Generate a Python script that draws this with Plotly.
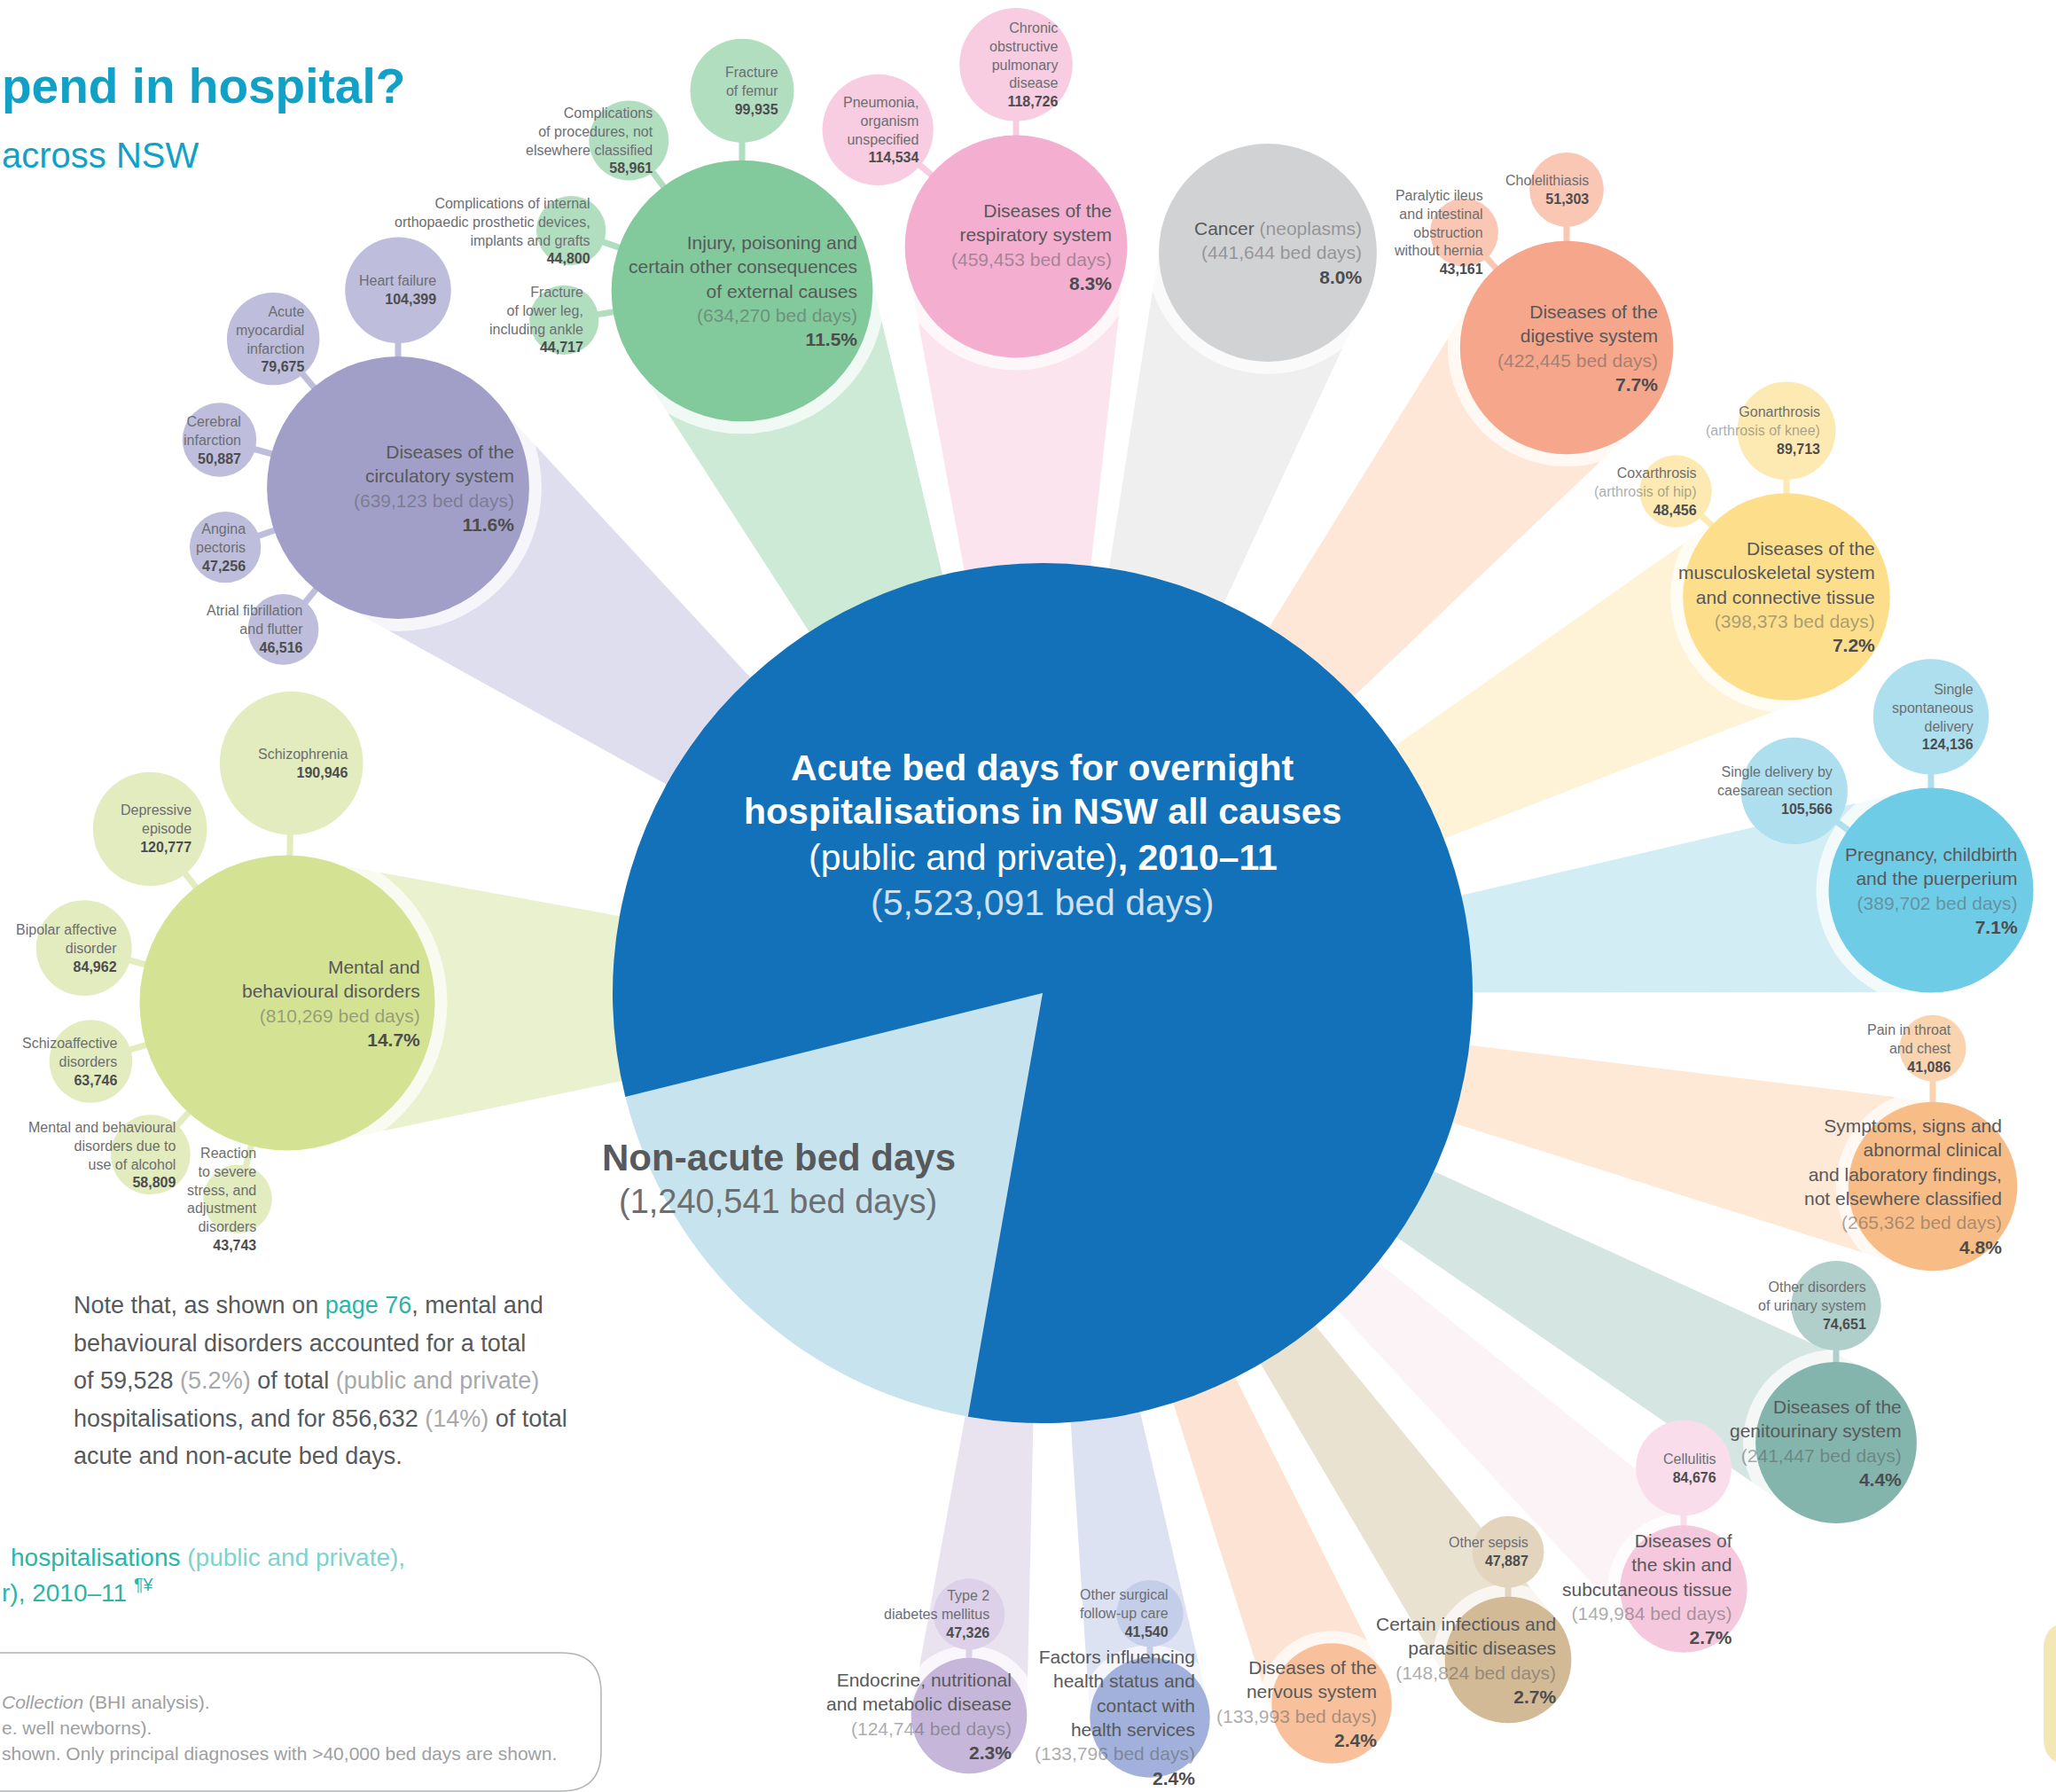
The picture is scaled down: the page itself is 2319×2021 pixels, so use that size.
import re
import numpy as np
import plotly.graph_objects as go

W, H = 2319, 2021
FONT = "Liberation Sans, Arial, sans-serif"

# ---- data ----
pie_labels = ["Non-acute bed days", "Acute bed days"]
pie_values = [1240541, 5523091]

cat_names = [
    "Diseases of the<br>circulatory system",
    "Injury, poisoning and<br>certain other consequences<br>of external causes",
    "Diseases of the<br>respiratory system",
    "Cancer (neoplasms)",
    "Diseases of the<br>digestive system",
    "Diseases of the<br>musculoskeletal system<br>and connective tissue",
    "Pregnancy, childbirth<br>and the puerperium",
    "Symptoms, signs and<br>abnormal clinical<br>and laboratory findings,<br>not elsewhere classified",
    "Diseases of the<br>genitourinary system",
    "Diseases of<br>the skin and<br>subcutaneous tissue",
    "Certain infectious and<br>parasitic diseases",
    "Diseases of the<br>nervous system",
    "Factors influencing<br>health status and<br>contact with<br>health services",
    "Endocrine, nutritional<br>and metabolic disease",
    "Mental and<br>behavioural disorders",
]
cat_days = [639123, 634270, 459453, 441644, 422445, 398373, 389702, 265362,
            241447, 149984, 148824, 133993, 133796, 124744, 810269]
cat_pct = [11.6, 11.5, 8.3, 8.0, 7.7, 7.2, 7.1, 4.8, 4.4, 2.7, 2.7, 2.4, 2.4, 2.3, 14.7]

sub_parent = [0, 0, 0, 0, 0,
              1, 1, 1, 1,
              2, 2,
              4, 4,
              5, 5,
              6, 6,
              7,
              8,
              9,
              10,
              12,
              13,
              14, 14, 14, 14, 14, 14]
sub_names = [
    "Heart failure", "Acute<br>myocardial<br>infarction", "Cerebral<br>infarction",
    "Angina<br>pectoris", "Atrial fibrillation<br>and flutter",
    "Fracture<br>of femur", "Complications<br>of procedures, not<br>elsewhere classified",
    "Complications of internal<br>orthopaedic prosthetic devices,<br>implants and grafts",
    "Fracture<br>of lower leg,<br>including ankle",
    "Chronic<br>obstructive<br>pulmonary<br>disease", "Pneumonia,<br>organism<br>unspecified",
    "Cholelithiasis", "Paralytic ileus<br>and intestinal<br>obstruction<br>without hernia",
    "Gonarthrosis<br>(arthrosis of knee)", "Coxarthrosis<br>(arthrosis of hip)",
    "Single<br>spontaneous<br>delivery", "Single delivery by<br>caesarean section",
    "Pain in throat<br>and chest",
    "Other disorders<br>of urinary system",
    "Cellulitis",
    "Other sepsis",
    "Other surgical<br>follow-up care",
    "Type 2<br>diabetes mellitus",
    "Schizophrenia", "Depressive<br>episode", "Bipolar affective<br>disorder",
    "Schizoaffective<br>disorders", "Mental and behavioural<br>disorders due to<br>use of alcohol",
    "Reaction<br>to severe<br>stress, and<br>adjustment<br>disorders",
]
sub_days = [104399, 79675, 50887, 47256, 46516,
            99935, 58961, 44800, 44717,
            118726, 114534,
            51303, 43161,
            89713, 48456,
            124136, 105566,
            41086,
            74651,
            84676,
            47887,
            41540,
            47326,
            190946, 120777, 84962, 63746, 58809, 43743]

# ---- layout (pixel positions on the page) ----
PIE_C = (1176, 1120)
PIE_R = 485
R_SCALE = 0.185          # px per sqrt(bed day)
HALO = 14

cat_x = [449, 837, 1146, 1430, 1767, 2015, 2178, 2180, 2071, 1899, 1701, 1502, 1297, 1093, 324]
cat_y = [550, 328, 278, 285, 392, 673, 1004, 1338, 1627, 1792, 1872, 1921, 1937, 1935, 1131]

sub_angle = [-90, -130, -165, 161, 129,
             -90, -127, -160.6, 170.7,
             -90, -139.8,
             -90, -131.7,
             -90, -136.4,
             -90, -144,
             -90, -90, -90, -90, -90, -90,
             -89, -128.3, -164.9, 163.4, 132, 104.2]
sub_gap = [15, 19, 19, 18, 18,
           20, 20, 18, 17,
           16, 16,
           16, 15,
           15, 15,
           15, 15,
           23, 13, 11, 10, 12, 9,
           23, 19, 17, 18, 19, 23]

main_col = ["#A19FC8", "#82C99B", "#F3AED0", "#D1D2D4", "#F5A68B", "#FDDF8B", "#6FCCE6", "#F8BD86",
            "#83B5AC", "#F6C8DD", "#D2BA96", "#F8C19C", "#A1B1DB", "#C6B7DA", "#D4E293"]
sub_col = ["#BEBDDC", "#B2DEC0", "#F8CCE1", "#E3E3E4", "#F9C7B4", "#FDEAB2", "#AEDFEE", "#FAD4AF",
           "#B0CFCA", "#FADDEA", "#E3D4BE", "#FBD6C0", "#C4CEE9", "#DCD1E8", "#E3ECBE"]
wedge_col = ["#DFDEEE", "#CDEAD6", "#FCE4EF", "#EFEFF0", "#FEE7D6", "#FEF3D7", "#D3EDF5", "#FEE8D6",
             "#D5E6E2", "#FCF3F7", "#EAE2D1", "#FDE3D3", "#DCE2F2", "#E9E3F0", "#EAF1CE"]

DARK = "#58595B"
BOLD = "#4D4D4F"
LIGHT = "#A7A9AC"
SOFT = "rgba(88,89,91,0.5)"   # light grey text laid over coloured bubbles
TEAL = "#12A1C6"


def rad(v):
    return R_SCALE * np.sqrt(v)


def style_label(s):
    return re.sub(r"(\(.*?\))", rf"<span style='color:{SOFT}'>\1</span>", s)


cat_r = [rad(v) for v in cat_days]
sub_r = [rad(v) for v in sub_days]
sub_x, sub_y = [], []
for i, p in enumerate(sub_parent):
    d = cat_r[p] + sub_r[i] + sub_gap[i]
    a = np.radians(sub_angle[i])
    sub_x.append(cat_x[p] + d * np.cos(a))
    sub_y.append(cat_y[p] + d * np.sin(a))

fig = go.Figure()

# Fans from the pie to each category bubble
for i in range(len(cat_names)):
    dx, dy = cat_x[i] - PIE_C[0], cat_y[i] - PIE_C[1]
    L = np.hypot(dx, dy)
    nx, ny = -dy / L * cat_r[i], dx / L * cat_r[i]
    fig.add_trace(go.Scatter(
        x=[PIE_C[0], cat_x[i] + nx, cat_x[i] - nx, PIE_C[0]],
        y=[PIE_C[1], cat_y[i] + ny, cat_y[i] - ny, PIE_C[1]],
        fill='toself', fillcolor=wedge_col[i], mode='lines',
        line=dict(width=0), hoverinfo='skip', showlegend=False
    ))

# White halo round the category bubbles
fig.add_trace(go.Scatter(
    x=cat_x, y=cat_y, mode='markers',
    marker=dict(size=[2 * (r + HALO) for r in cat_r], color='white', line=dict(width=0)),
    hoverinfo='skip', showlegend=False
))

# Connectors
for p in sorted(set(sub_parent)):
    xs, ys = [], []
    for i, q in enumerate(sub_parent):
        if q == p:
            xs += [cat_x[p], sub_x[i], None]
            ys += [cat_y[p], sub_y[i], None]
    fig.add_trace(go.Scatter(x=xs, y=ys, mode='lines', line=dict(color=sub_col[p], width=7),
                             hoverinfo='skip', showlegend=False))

# Bubbles
fig.add_trace(go.Scatter(
    x=cat_x, y=cat_y, mode='markers',
    marker=dict(size=[2 * r for r in cat_r], color=main_col, line=dict(width=0), opacity=1),
    hoverinfo='skip', showlegend=False
))
fig.add_trace(go.Scatter(
    x=sub_x, y=sub_y, mode='markers',
    marker=dict(size=[2 * r for r in sub_r], color=[sub_col[p] for p in sub_parent],
                line=dict(width=0), opacity=1),
    hoverinfo='skip', showlegend=False
))

# Main pie
fig.add_trace(go.Pie(
    labels=pie_labels, values=pie_values, sort=False, direction='clockwise', rotation=190,
    marker=dict(colors=["#C6E3EE", "#1271B8"], line=dict(width=0)),
    textinfo='none', hoverinfo='skip', showlegend=False,
    domain=dict(x=[(PIE_C[0] - PIE_R) / W, (PIE_C[0] + PIE_R) / W],
                y=[1 - (PIE_C[1] + PIE_R) / H, 1 - (PIE_C[1] - PIE_R) / H])
))

ann = []
for i, name in enumerate(cat_names):
    txt = (f"{style_label(name)}<br><span style='color:{SOFT}'>({cat_days[i]:,} bed days)</span>"
           f"<br><b><span style='color:{BOLD}'>{cat_pct[i]:.1f}%</span></b>")
    ann.append(dict(x=cat_x[i] + cat_r[i] - 15, y=cat_y[i], text=txt, xanchor='right', yanchor='middle',
                    align='right', font=dict(size=21, color=DARK, family=FONT)))
for i, name in enumerate(sub_names):
    txt = f"{style_label(name)}<br><b><span style='color:{BOLD}'>{sub_days[i]:,}</span></b>"
    ann.append(dict(x=sub_x[i] + sub_r[i] - 15, y=sub_y[i], text=txt, xanchor='right', yanchor='middle',
                    align='right', font=dict(size=16, color="#6D6E71", family=FONT)))

# Pie text
pie_lines = [
    ("<b>Acute bed days for overnight</b>", 866, "white"),
    ("<b>hospitalisations in NSW all causes</b>", 915, "white"),
    ("(public and private)<b>, 2010–11</b>", 967, "white"),
    (f"({pie_values[1]:,} bed days)", 1018, "#CFE0F2"),
]
for t, yy, c in pie_lines:
    ann.append(dict(x=PIE_C[0], y=yy, text=t, xanchor='center', yanchor='middle',
                    font=dict(size=41, color=c, family=FONT)))
ann.append(dict(x=878, y=1305, text=f"<b>{pie_labels[0]}</b>", xanchor='center', yanchor='middle',
                font=dict(size=42, color=DARK, family=FONT)))
ann.append(dict(x=877, y=1355, text=f"({pie_values[0]:,} bed days)", xanchor='center', yanchor='middle',
                font=dict(size=38, color="#6D6E71", family=FONT)))

# Page text
ann.append(dict(x=0, y=97, text="<b>pend in hospital?</b>", xanchor='left', yanchor='middle',
                font=dict(size=55, color=TEAL, family=FONT)))
ann.append(dict(x=0, y=175, text="across NSW", xanchor='left', yanchor='middle',
                font=dict(size=40, color=TEAL, family=FONT)))

note_lines = [
    "Note that, as shown on <span style='color:#2BB5AA'>page 76</span>, mental and",
    "behavioural disorders accounted for a total",
    f"of 59,528 <span style='color:{LIGHT}'>(5.2%)</span> of total <span style='color:{LIGHT}'>(public and private)</span>",
    f"hospitalisations, and for 856,632 <span style='color:{LIGHT}'>(14%)</span> of total",
    "acute and non-acute bed days.",
]
for k, t in enumerate(note_lines):
    ann.append(dict(x=81, y=1472 + k * 42.5, text=t, xanchor='left', yanchor='middle',
                    font=dict(size=27, color=DARK, family=FONT)))

ann.append(dict(x=10, y=1756, text="hospitalisations <span style='color:#7FD3CC'>(public and private),</span>",
                xanchor='left', yanchor='middle', font=dict(size=28, color="#2BB5AA", family=FONT)))
ann.append(dict(x=0, y=1794, text="r), 2010–11 <sup>¶¥</sup>",
                xanchor='left', yanchor='middle', font=dict(size=28, color="#2BB5AA", family=FONT)))

box_lines = ["<i>Collection</i> (BHI analysis).", "e. well newborns).",
             "shown. Only principal diagnoses with >40,000 bed days are shown."]
for k, t in enumerate(box_lines):
    ann.append(dict(x=0, y=1919 + k * 29, text=t, xanchor='left', yanchor='middle',
                    font=dict(size=21, color="#9D9FA2", family=FONT)))

for a in ann:
    a.update(xref='x', yref='y', showarrow=False)

shapes = [
    dict(type='path', xref='x', yref='y', layer='below',
         path="M -10,1864 L 633,1864 Q 678,1864 678,1909 L 678,1975 Q 678,2020 633,2020 L -10,2020",
         line=dict(color="#B1B3B6", width=1.5)),
    dict(type='path', xref='x', yref='y', layer='below',
         path="M 2345,1830 L 2335,1830 Q 2305,1830 2305,1860 L 2305,1960 Q 2305,1990 2335,1990 L 2345,1990 Z",
         fillcolor="#F3E8B5", line=dict(width=0)),
]

fig.update_layout(
    width=W, height=H, autosize=False,
    margin=dict(l=0, r=0, t=0, b=0, pad=0),
    paper_bgcolor='white', plot_bgcolor='white',
    xaxis=dict(range=[0, W], visible=False, fixedrange=True),
    yaxis=dict(range=[H, 0], visible=False, fixedrange=True),
    annotations=ann, shapes=shapes, showlegend=False,
)

fig.write_html("out.html", config={'displayModeBar': False},
               post_script="document.body.style.margin='0';")
